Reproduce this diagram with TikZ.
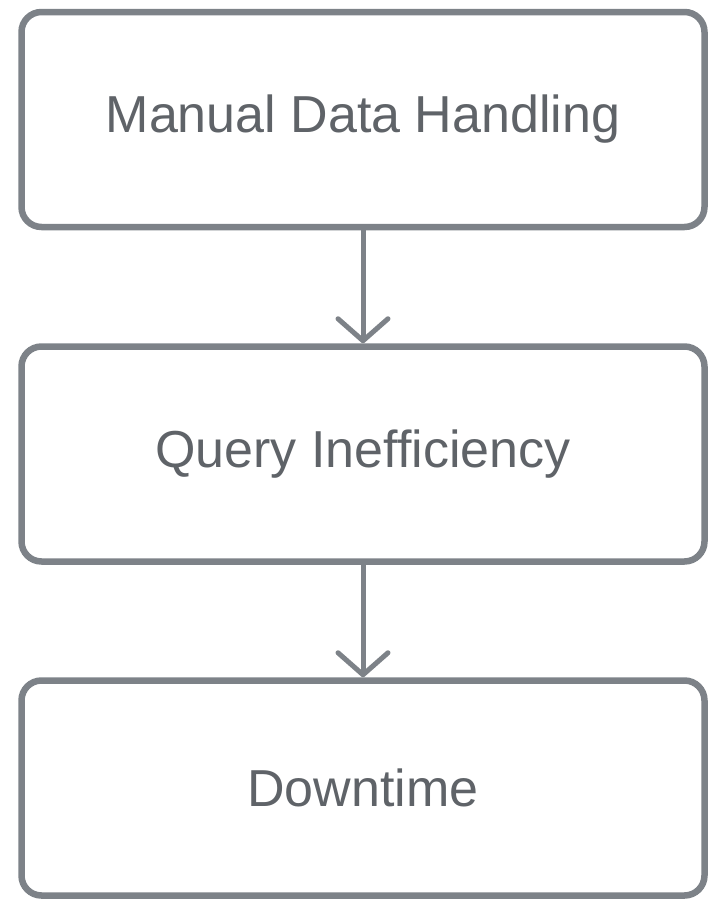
\documentclass[tikz,border=0pt]{standalone}
\usepackage{fontspec}
\setmainfont{Liberation Sans}
\usepackage{tikz}
\usetikzlibrary{arrows.meta}

\definecolor{boxgray}{HTML}{7D8288}
\definecolor{textgray}{HTML}{5F6368}

\tikzset{
  stepbox/.style={draw=boxgray, line width=6.5pt, rounded corners=20pt, fill=white,
    minimum width=683pt, minimum height=215pt, text=textgray,
    font=\fontsize{52}{60}\selectfont},
  flow/.style={draw=boxgray, line width=5pt, line cap=round,
    -{Straight Barb[length=22pt, width=50pt, line cap=round, round]}}
}

\begin{document}
\begin{tikzpicture}[x=1pt, y=1pt]
\useasboundingbox (0,0) rectangle (709,-900);

\node[stepbox] (manual) at (363,-119.5) {Manual Data Handling};
\node[stepbox] (query) at (363,-454) {Query Inefficiency};
\node[stepbox] (down) at (363,-788) {Downtime};

\draw[flow] (manual.south) -- (query.north);
\draw[flow] (query.south) -- (down.north);
\end{tikzpicture}
\end{document}
